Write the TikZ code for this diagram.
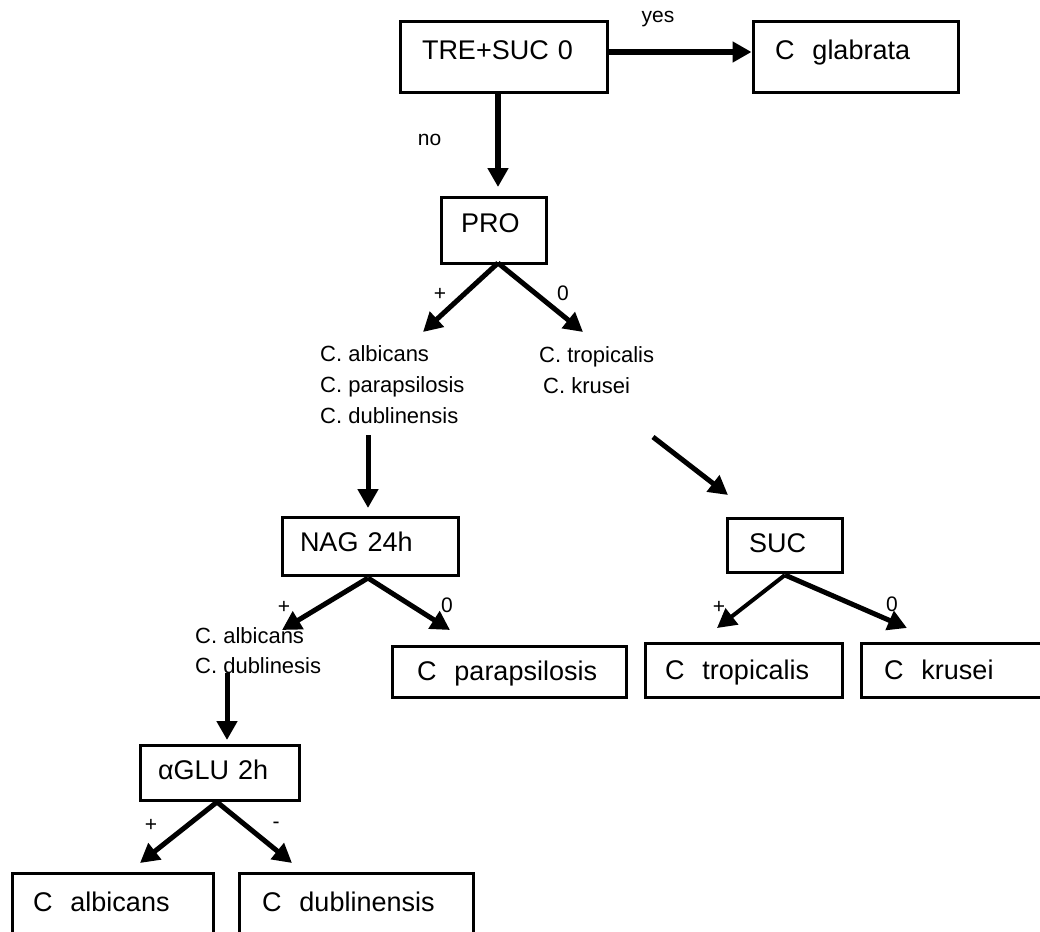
\documentclass[tikz,border=0pt]{standalone}
\usepackage{fontspec}
\setmainfont{Liberation Sans}
\usetikzlibrary{arrows.meta}
\begin{document}
\begin{tikzpicture}[x=1pt,y=-1pt,
  box/.style={draw, line width=3pt, align=left, inner ysep=0pt, text height=19pt,
    font=\fontsize{27}{31}\selectfont},
  lst/.style={align=left, anchor=west, inner sep=0pt, font=\fontsize{22}{31}\selectfont},
  lab/.style={inner sep=0pt, font=\fontsize{21}{24}\selectfont},
  arr/.style={line width=5pt, -{Triangle[length=19pt,width=20pt]}},
  bigarr/.style={line width=6pt, -{Triangle[length=19pt,width=20pt]}}]
\useasboundingbox (0,0) rectangle (1040,931);
\fill[white] (0,0) rectangle (1040,931);

% boxes
\node[box, text width=163pt, inner xsep=22pt, minimum height=71pt, text depth=15pt] (tre) at (503.5,57.5) {TRE+SUC 0};
\node[box, text width=161pt, inner xsep=22pt, minimum height=71pt, text depth=15pt] (glab) at (855.5,57.5) {C\ \ glabrata};
\node[box, text width=65pt, inner xsep=20pt, minimum height=66pt, text depth=16pt] (pro) at (493.5,230.5) {PRO};
\node[box, text width=140pt, inner xsep=18pt, minimum height=58pt, text depth=9pt] (nag) at (370,546.5) {NAG 24h};
\node[box, text width=71pt, inner xsep=22pt, minimum height=54pt, text depth=4.5pt] (suc) at (784.5,545) {SUC};
\node[box, text width=184pt, inner xsep=25pt, minimum height=51pt, text depth=1.5pt] (para) at (509,671.5) {C\ \ parapsilosis};
\node[box, text width=157pt, inner xsep=20pt, minimum height=54pt, text depth=0.5pt] (trop) at (743.5,670) {C\ \ tropicalis};
\node[box, text width=143pt, inner xsep=23pt, minimum height=54pt, text depth=0.5pt] (krus) at (955.5,670) {C\ \ krusei};
\node[box, text width=123pt, inner xsep=18pt, minimum height=55pt, text depth=5.5pt] (aglu) at (219.5,772.5) {αGLU 2h};
\node[box, text width=159pt, inner xsep=21pt, minimum height=87pt, text depth=29pt] (alb) at (112.5,916.5) {C\ \ albicans};
\node[box, text width=188pt, inner xsep=23pt, minimum height=87pt, text depth=29pt] (dubl) at (356,916.5) {C\ \ dublinensis};

% species lists
\node[lst] (lstA) at (320,385) {C. albicans\\C. parapsilosis\\C. dublinensis};
\node[lst] (lstB) at (539,370) {C. tropicalis\\\hspace{4pt}C. krusei};
\node[lst, font=\fontsize{22}{30}\selectfont] (lstC) at (195,651) {C. albicans\\C. dublinesis};

% labels
\node[lab, anchor=base] (yes) at (658,23) {yes};
\node[lab, anchor=base] (no) at (429.5,145) {no};
\node[lab] (p1) at (440,294) {+};
\node[lab] (z1) at (563,293) {0};
\node[lab] (p2) at (284,607) {+};
\node[lab] (z2) at (447,605) {0};
\node[lab] (p3) at (719,607) {+};
\node[lab] (z3) at (892,604) {0};
\node[lab] (p4) at (151,825) {+};
\node[lab] (m4) at (276,825) {-};

% arrow end points
\coordinate (noend) at (498,187);
\coordinate (proA) at (498,263);
\coordinate (tA) at (423,332);
\coordinate (tB) at (583,332);
\coordinate (astart) at (368,435);
\coordinate (nagin) at (368,508);
\coordinate (bstart) at (653,437);
\coordinate (sucin) at (728,495);
\coordinate (nagA) at (368,578);
\coordinate (tC) at (282,630);
\coordinate (tD) at (450,630);
\coordinate (sucA) at (785,575);
\coordinate (tE) at (717,628);
\coordinate (tF) at (907,628);
\coordinate (cstart) at (227,673);
\coordinate (agluin) at (227,740);
\coordinate (agluA) at (217,802);
\coordinate (tG) at (140,863);
\coordinate (tH) at (292,863);

% connectors
\draw[bigarr] ([yshift=5.5pt]tre.east) -- ([yshift=5.5pt]glab.west);
\draw[bigarr] (tre.south -| noend) -- (noend);
\draw[arr] (proA) -- (tA);
\draw[arr] (proA) -- (tB);
\draw[arr] (astart) -- (nagin);
\draw[arr] (bstart) -- (sucin);
\draw[arr] (nagA) -- (tC);
\draw[arr] (nagA) -- (tD);
\draw[arr, line width=4pt] (sucA) -- (tE);
\draw[arr] (sucA) -- (tF);
\draw[arr] (cstart) -- (agluin);
\draw[arr] (agluA) -- (tG);
\draw[arr] (agluA) -- (tH);
\end{tikzpicture}
\end{document}
